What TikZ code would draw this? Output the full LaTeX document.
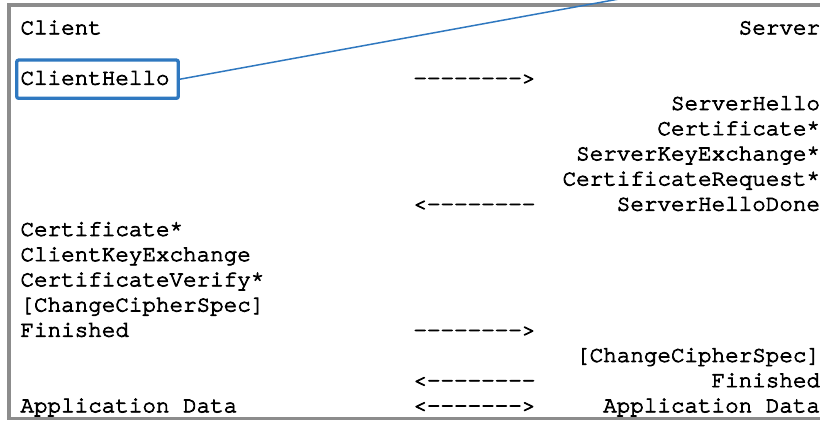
\documentclass[tikz,border=0pt]{standalone}
\usepackage{fontspec}
\newfontfamily\codefont{texgyrecursor-regular.otf}[Ligatures={NoCommon}, FakeBold=3.4]
\definecolor{framegray}{HTML}{8C8C8C}
\definecolor{hlblue}{HTML}{2F78C0}
\begin{document}
\begin{tikzpicture}[x=1pt,y=-1pt,
  txt/.style={inner sep=0pt, outer sep=0pt, font=\fontsize{22.58pt}{25pt}\selectfont\codefont, text=black},
  lft/.style={txt, anchor=base west},
  rgt/.style={txt, anchor=base east},
  frameline/.style={draw=framegray, line width=3.3pt},
  hlbox/.style={draw=hlblue, line width=3.3pt, rounded corners=2pt, inner sep=0pt, minimum width=161.6pt, minimum height=38.3pt},
  hlline/.style={draw=hlblue, line width=1.5pt}]
\useasboundingbox (0,0) rectangle (820,422);
\clip (0,0) rectangle (820,422);
\fill[white] (0,0) rectangle (820,422);
% frame
\draw[frameline] (840,5) -- (9,5) -- (9,418.3) -- (840,418.3);
% left column (x = 20.5)
\node[lft] (client) at (20.5,34.3) {Client};
\node[lft] (chello) at (20.5,84.7) {ClientHello};
\node[lft] (ccert) at (20.5,235.9) {Certificate*};
\node[lft] (ckex) at (20.5,261.1) {ClientKeyExchange};
\node[lft] (cverify) at (20.5,286.3) {CertificateVerify*};
\node[lft] (cccs) at (20.5,311.5) {[ChangeCipherSpec]};
\node[lft] (cfin) at (20.5,336.7) {Finished};
\node[lft] (cappdata) at (20.5,412.3) {Application Data};
% arrows (x = 413.45)
\node[lft] (a1) at (413.45,84.7) {-------->};
\node[lft] (a2) at (413.45,210.7) {<--------};
\node[lft] (a3) at (413.45,336.7) {-------->};
\node[lft] (a4) at (413.45,387.1) {<--------};
\node[lft] (a5) at (413.45,412.3) {<------->};
% right column (right edge x = 820)
\node[rgt] (server) at (820,34.3) {Server};
\node[rgt] (shello) at (820,109.9) {ServerHello};
\node[rgt] (scert) at (820,135.1) {Certificate*};
\node[rgt] (skex) at (820,160.3) {ServerKeyExchange*};
\node[rgt] (sreq) at (820,185.5) {CertificateRequest*};
\node[rgt] (sdone) at (820,210.7) {ServerHelloDone};
\node[rgt] (sccs) at (820,361.9) {[ChangeCipherSpec]};
\node[rgt] (sfin) at (820,387.1) {Finished};
\node[rgt] (sappdata) at (820,412.3) {Application Data};
% highlight
\node[hlbox] (box) at (97.5,79.2) {};
\coordinate (callout) at (619,-1);
\draw[hlline] (box.east) -- (callout);
\end{tikzpicture}
\end{document}
